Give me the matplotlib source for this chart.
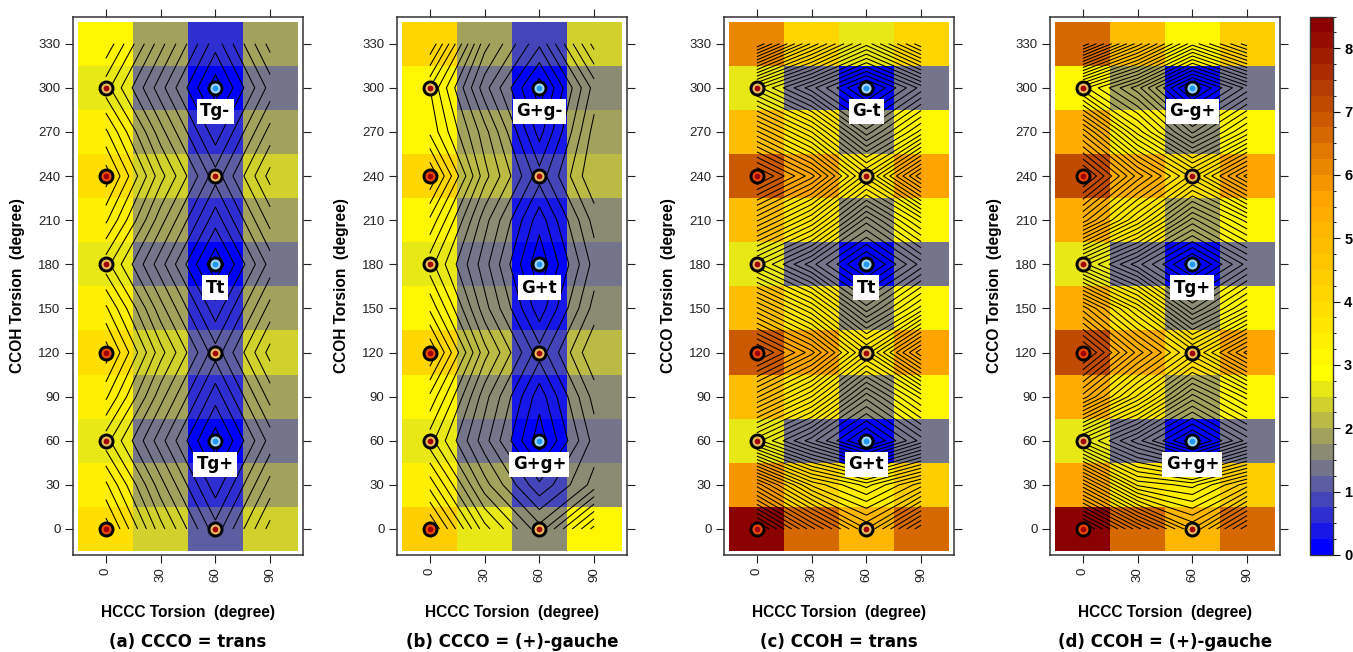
import numpy as np
import matplotlib
matplotlib.use("Agg")
import matplotlib.pyplot as plt
from matplotlib.colors import ListedColormap, BoundaryNorm, LinearSegmentedColormap
import matplotlib as mpl

# ---------------- data ----------------
hccc = [0, 30, 60, 90]                      # x categories (columns)
torsion = list(range(0, 331, 30))           # y categories (rows)
xticks = [0, 30, 60, 90]
yticks = list(range(0, 331, 30))

# rows: torsion 0..330, columns: HCCC 0,30,60,90  (energy, kcal/mol)
energy_a = [
    [3.9, 2.35, 1.1, 2.35],
    [3.3, 1.85, 0.6, 1.85],
    [2.6, 1.35, 0.1, 1.35],
    [3.3, 1.85, 0.6, 1.85],
    [3.9, 2.35, 1.1, 2.35],
    [3.3, 1.85, 0.6, 1.85],
    [2.6, 1.35, 0.05, 1.35],
    [3.3, 1.85, 0.6, 1.85],
    [3.9, 2.35, 1.1, 2.35],
    [3.3, 1.85, 0.6, 1.85],
    [2.6, 1.35, 0.1, 1.35],
    [3.2, 1.85, 0.6, 1.85],
]
energy_b = [
    [4.3, 2.6, 1.6, 3.1],
    [3.4, 1.85, 0.8, 1.6],
    [2.6, 1.35, 0.1, 1.35],
    [3.2, 1.6, 0.35, 1.6],
    [4.0, 2.1, 0.85, 2.0],
    [3.2, 1.6, 0.35, 1.6],
    [2.6, 1.35, 0.05, 1.35],
    [3.2, 1.6, 0.35, 1.6],
    [4.0, 2.1, 0.85, 2.0],
    [3.2, 1.85, 0.4, 1.85],
    [3.0, 1.35, 0.1, 1.6],
    [4.0, 1.85, 0.8, 2.35],
]
energy_c = [
    [8.4, 6.6, 5.0, 6.7],
    [5.9, 4.2, 3.4, 4.4],
    [2.6, 1.35, 0.05, 1.35],
    [4.8, 3.5, 1.6, 3.1],
    [6.9, 5.6, 3.6, 5.7],
    [4.8, 3.5, 1.6, 3.1],
    [2.6, 1.35, 0.05, 1.35],
    [4.8, 3.5, 1.6, 3.1],
    [6.9, 5.6, 3.6, 5.7],
    [4.8, 3.5, 1.6, 3.1],
    [2.6, 1.35, 0.05, 1.35],
    [6.0, 4.2, 2.6, 4.2],
]
energy_d = [
    [8.4, 6.6, 5.0, 6.7],
    [5.6, 3.7, 3.4, 4.4],
    [2.6, 1.35, 0.05, 1.35],
    [5.4, 3.7, 1.9, 3.1],
    [7.2, 5.4, 3.9, 5.6],
    [5.4, 3.7, 1.7, 3.1],
    [2.6, 1.35, 0.05, 1.35],
    [5.4, 3.7, 1.9, 3.1],
    [7.2, 5.4, 3.9, 5.6],
    [5.4, 3.4, 1.7, 3.1],
    [3.1, 1.85, 0.05, 1.35],
    [6.7, 4.9, 3.1, 4.4],
]

# stationary points
pt_x = [0, 0, 0, 0, 0, 0, 60, 60, 60, 60, 60, 60]
pt_y = [0, 60, 120, 180, 240, 300, 0, 60, 120, 180, 240, 300]
pt_kind = ["high", "mid", "high", "mid", "high", "mid",
           "mid", "low", "mid", "low", "mid", "low"]

label_y = [300, 180, 60]
labels_a = ["Tg-", "Tt", "Tg+"]
labels_b = ["G+g-", "G+t", "G+g+"]
labels_c = ["G-t", "Tt", "G+t"]
labels_d = ["G-g+", "Tg+", "G+g+"]

titles = ["(a) CCCO = trans", "(b) CCCO = (+)-gauche",
          "(c) CCOH = trans", "(d) CCOH = (+)-gauche"]
ylabels = ["CCOH Torsion  (degree)", "CCOH Torsion  (degree)",
           "CCCO Torsion  (degree)", "CCCO Torsion  (degree)"]
xlabel = "HCCC Torsion  (degree)"

# ---------------- colours ----------------
levels = np.arange(0, 8.5001, 0.25)
c1 = LinearSegmentedColormap.from_list("by", ["#0000ff", "#ffff00"])
c2 = LinearSegmentedColormap.from_list("yod", ["#ffff00", "#ffa500", "#8b0000"])
cols = [c1(i / 11) for i in range(12)] + [c2(i / 22) for i in range(1, 23)]
cmap = ListedColormap(cols)
norm = BoundaryNorm(levels, cmap.N)

fill_col = {"high": "#ec4a0a", "mid": "#e9bb5c", "low": "#9ed5fb"}
dot_col = {"high": "#a00000", "mid": "#a00000", "low": "#2196f3"}

# ---------------- figure ----------------
W, H = 1353, 652
fig = plt.figure(figsize=(W / 100, H / 100), dpi=100)

def fx(px):
    return px / W

def fy(py):
    return 1 - py / H

lefts = [73, 397, 724, 1050]
top, bottom, pw = 16.5, 555, 230
tickfont = {"family": "Liberation Sans", "size": 9.5}
labfont = {"family": "Liberation Sans", "size": 11.2, "weight": "bold"}

panels = [(energy_a, labels_a), (energy_b, labels_b),
          (energy_c, labels_c), (energy_d, labels_d)]

X = np.array(hccc)
Y = np.array(torsion)
for k, (E, labs) in enumerate(panels):
    Z = np.array(E)
    ax = fig.add_axes([fx(lefts[k]), fy(bottom), fx(pw), (bottom - top) / H])
    ax.pcolormesh(X, Y, Z, cmap=cmap, norm=norm, shading="nearest")
    ax.contour(X, Y, Z, levels=levels, colors="black", linewidths=0.75)
    for kind in ["high", "mid", "low"]:
        xs = [x for x, kd in zip(pt_x, pt_kind) if kd == kind]
        ys = [y for y, kd in zip(pt_y, pt_kind) if kd == kind]
        ax.scatter(xs, ys, s=88, c=fill_col[kind], edgecolors="black",
                   linewidths=2.1, zorder=5)
        ax.scatter(xs, ys, s=17, c=dot_col[kind], linewidths=0, zorder=6)
    for ly, lt in zip(label_y, labs):
        ax.text(60, ly - 16, lt, ha="center", va="center",
                family="DejaVu Sans", weight="bold", size=12, zorder=7,
                bbox=dict(boxstyle="square,pad=0.2", fc="white", ec="none"))
    ax.set_xlim(-18, 108)
    ax.set_ylim(-17.7, 348.5)
    ax.set_xticks(xticks)
    ax.set_yticks(yticks)
    ax.set_xticklabels([str(v) for v in xticks], rotation=90, fontdict=tickfont)
    ax.set_yticklabels([str(v) for v in yticks], fontdict=tickfont)
    ax.tick_params(direction="out", length=6, width=0.8, top=True, right=True,
                   labeltop=False, labelright=False, pad=3, colors="#222222")
    for sp in ax.spines.values():
        sp.set_linewidth(1.1)
        sp.set_color("#333333")
    fig.text(fx(lefts[k] - 55), fy((top + bottom) / 2), ylabels[k],
             rotation=90, ha="center", va="center", **labfont)
    fig.text(fx(lefts[k] + pw / 2), fy(612), xlabel, ha="center",
             va="center", **labfont)
    fig.text(fx(lefts[k] + pw / 2), fy(642), titles[k], ha="center",
             va="center", family="DejaVu Sans", weight="bold", size=12)

# colorbar
cax = fig.add_axes([fx(1310), fy(555), fx(23), (555 - 16.5) / H])
cb = mpl.colorbar.ColorbarBase(cax, cmap=cmap, norm=norm, boundaries=levels,
                               ticks=list(range(0, 9)), orientation="vertical")
cb.outline.set_linewidth(1.0)
cb.outline.set_edgecolor("#333333")
cax.tick_params(direction="out", length=5, width=0.8, pad=3)
cax.set_yticklabels([str(v) for v in range(0, 9)],
                    family="Liberation Sans", size=10.5, weight="bold")

fig.savefig("out.png", dpi=100)
